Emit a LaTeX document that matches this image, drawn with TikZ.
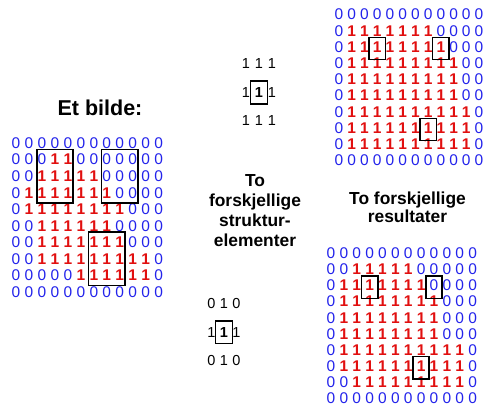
\documentclass[tikz,border=0pt]{standalone}
\usepackage{fontspec}
\setmainfont{Liberation Sans}
\usetikzlibrary{calc}
\definecolor{zeroblue}{RGB}{35,35,235}
\definecolor{onered}{RGB}{225,15,15}
\newcommand\gdig[1]{\ifnum#1=1 {\color{onered}\bfseries 1}\else{\color{zeroblue}0}\fi}
\tikzset{
  dig/.style={inner sep=0pt, font=\fontsize{15.5}{16}\selectfont},
  sdig/.style={inner sep=0pt, font=\fontsize{14.5}{16}\selectfont, text=black},
  selbox/.style={draw=black, line width=1.8pt},
  sebox/.style={draw=black, line width=1.5pt},
  heading/.style={font=\fontsize{17.4}{20}\selectfont\bfseries, align=center}
}
\begin{document}
\begin{tikzpicture}[x=1pt,y=-1pt]
\useasboundingbox (0,0) rectangle (484,410);

% ---- left grid (original image)
\foreach \rowlist [count=\r from 0] in {
 {0,0,0,0,0,0,0,0,0,0,0,0},
 {0,0,0,1,1,0,0,0,0,0,0,0},
 {0,0,1,1,1,1,1,0,0,0,0,0},
 {0,1,1,1,1,1,1,1,0,0,0,0},
 {0,1,1,1,1,1,1,1,1,0,0,0},
 {0,0,1,1,1,1,1,1,0,0,0,0},
 {0,0,1,1,1,1,1,1,1,0,0,0},
 {0,0,1,1,1,1,1,1,1,1,1,0},
 {0,0,0,0,0,1,1,1,1,1,1,0},
 {0,0,0,0,0,0,0,0,0,0,0,0}}{
  \foreach \d [count=\c from 0] in \rowlist {
    \node[dig] (L-\r-\c) at ({16+12.97*\c},{143+16.56*\r}) {\gdig{\d}};
  }
}
\draw[selbox] ($(L-1-2.center)+(-5.3,-10)$) rectangle ($(L-3-4.center)+(5.3,10)$);
\draw[selbox] ($(L-1-7.center)+(-5.3,-10)$) rectangle ($(L-3-9.center)+(5.3,10)$);
\draw[selbox] ($(L-6-6.center)+(-5.3,-10)$) rectangle ($(L-8-8.center)+(5.3,10)$);

% ---- top right grid (result 1)
\foreach \rowlist [count=\r from 0] in {
 {0,0,0,0,0,0,0,0,0,0,0,0},
 {0,1,1,1,1,1,1,1,0,0,0,0},
 {0,1,1,1,1,1,1,1,1,0,0,0},
 {0,1,1,1,1,1,1,1,1,1,0,0},
 {0,1,1,1,1,1,1,1,1,1,0,0},
 {0,1,1,1,1,1,1,1,1,1,0,0},
 {0,1,1,1,1,1,1,1,1,1,1,0},
 {0,1,1,1,1,1,1,1,1,1,1,0},
 {0,1,1,1,1,1,1,1,1,1,1,0},
 {0,0,0,0,0,0,0,0,0,0,0,0}}{
  \foreach \d [count=\c from 0] in \rowlist {
    \node[dig] (T-\r-\c) at ({339+12.73*\c},{14.5+16.2*\r}) {\gdig{\d}};
  }
}
\foreach \p in {T-2-3, T-2-8, T-7-7}{
  \draw[selbox] ($(\p.center)+(-8.3,-9.5)$) rectangle ($(\p.center)+(8.3,12.5)$);
}

% ---- bottom right grid (result 2)
\foreach \rowlist [count=\r from 0] in {
 {0,0,0,0,0,0,0,0,0,0,0,0},
 {0,0,1,1,1,1,1,0,0,0,0,0},
 {0,1,1,1,1,1,1,1,0,0,0,0},
 {0,1,1,1,1,1,1,1,1,0,0,0},
 {0,1,1,1,1,1,1,1,1,0,0,0},
 {0,1,1,1,1,1,1,1,1,0,0,0},
 {0,1,1,1,1,1,1,1,1,1,1,0},
 {0,1,1,1,1,1,1,1,1,1,1,0},
 {0,0,1,1,1,1,1,1,1,1,1,0},
 {0,0,0,0,0,0,0,0,0,0,0,0}}{
  \foreach \d [count=\c from 0] in \rowlist {
    \node[dig] (B-\r-\c) at ({331+12.88*\c},{253.3+16.1*\r}) {\gdig{\d}};
  }
}
\foreach \p in {B-2-3, B-2-8, B-7-7}{
  \draw[selbox] ($(\p.center)+(-8.2,-9.5)$) rectangle ($(\p.center)+(8.2,13)$);
}

% ---- structuring element 1 (3x3 square)
\foreach \rowlist [count=\r from 0] in {{1,1,1},{1,1,1},{1,1,1}}{
  \foreach \d [count=\c from 0] in \rowlist {
    \node[sdig] (S-\r-\c) at ({246+13*\c},{64+28.3*\r}) {\ifnum\r=1 \ifnum\c=1 \bfseries\fi\fi\d};
  }
}
\draw[sebox] ($(S-1-1.center)+(-8.6,-11.5)$) rectangle ($(S-1-1.center)+(8.6,11.5)$);

% ---- structuring element 2 (cross)
\foreach \rowlist [count=\r from 0] in {{0,1,0},{1,1,1},{0,1,0}}{
  \foreach \d [count=\c from 0] in \rowlist {
    \node[sdig] (C-\r-\c) at ({211.5+12.5*\c},{304+28.3*\r}) {\ifnum\r=1 \ifnum\c=1 \bfseries\fi\fi\d};
  }
}
\draw[sebox] ($(C-1-1.center)+(-8.3,-11.3)$) rectangle ($(C-1-1.center)+(8.3,11.3)$);

% ---- headings
\node[heading, font=\fontsize{21.5}{24}\selectfont\bfseries] (img) at (100,107.5) {Et bilde:};
\node[heading] (se) at (255,210.5) {To\\forskjellige\\struktur-\\elementer};
\node[heading, font=\fontsize{17.4}{18.4}\selectfont\bfseries] (res) at (407.5,207.5) {To forskjellige\\resultater};
\end{tikzpicture}
\end{document}
